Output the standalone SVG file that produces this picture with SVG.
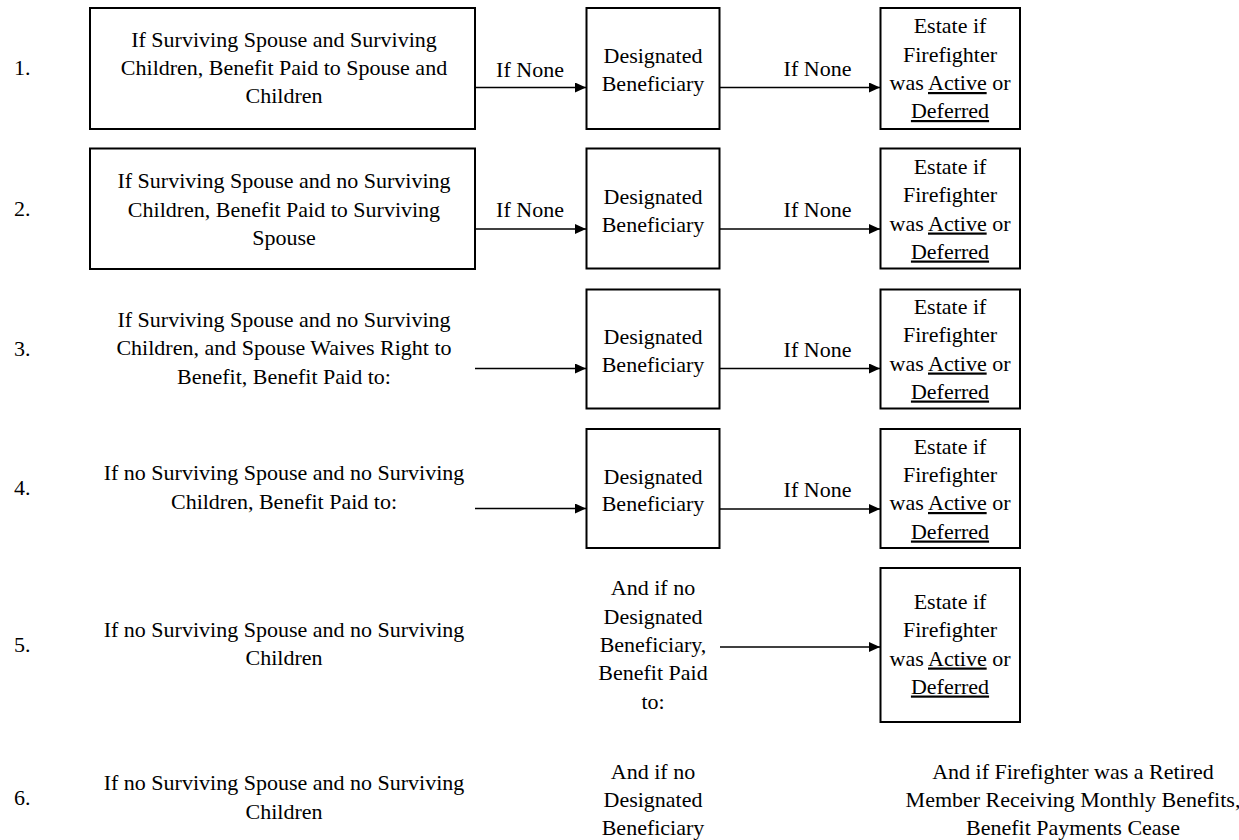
<svg xmlns="http://www.w3.org/2000/svg" width="1239" height="840" viewBox="0 0 1239 840">
<style>
text{font-size:22px;fill:#000}
#row1 text{font-family:"Liberation Serif"}
#row2 text{font-family:"Times New Roman"}
#row3 text{font-family:serif}
#row4 text{font-family:"Liberation Serif"}
#row5 text{font-family:serif}
#row6 text{font-family:"Times New Roman"}
#connectors text{font-family:Liberation Serif}
.c{text-anchor:middle}
.n{text-anchor:start}
.box{fill:#fff;stroke:#000;stroke-width:2}
.arr{stroke:#000;stroke-width:1.4;fill:none;marker-end:url(#ah)}
.u{text-decoration:underline}
</style>
<defs>
<marker id="ah" markerUnits="userSpaceOnUse" markerWidth="12" markerHeight="10" refX="11" refY="5" orient="auto" viewBox="0 0 12 10">
<path d="M0,0 L11,5 L0,10 z" fill="#000"/>
</marker>
</defs>
<rect width="1239" height="840" fill="#fff"/>
<g id="connectors">
<line class="arr" x1="475" y1="87.5" x2="586" y2="87.5"/>
<line class="arr" x1="719.5" y1="87.5" x2="880" y2="87.5"/>
<line class="arr" x1="475" y1="229" x2="586" y2="229"/>
<line class="arr" x1="719.5" y1="229" x2="880" y2="229"/>
<line class="arr" x1="475" y1="368.5" x2="586" y2="368.5"/>
<line class="arr" x1="719.5" y1="368.5" x2="880" y2="368.5"/>
<line class="arr" x1="475" y1="508.5" x2="586" y2="508.5"/>
<line class="arr" x1="719.5" y1="509" x2="880" y2="509"/>
<line class="arr" x1="720" y1="647" x2="880" y2="647"/>
<text class="c" x="530" y="77">If None</text>
<text class="c" x="817.5" y="76">If None</text>
<text class="c" x="530" y="217">If None</text>
<text class="c" x="817.5" y="216.5">If None</text>
<text class="c" x="817.5" y="357">If None</text>
<text class="c" x="817.5" y="497">If None</text>
</g>

<g id="row1">
<text class="n" x="14" y="75">1.</text>
<g id="r1-cond">
<rect class="box" x="90" y="8" width="385" height="121"/>
<text class="c" x="284" y="47">If Surviving Spouse and Surviving</text>
<text class="c" x="284" y="75">Children, Benefit Paid to Spouse and</text>
<text class="c" x="284" y="103">Children</text>
</g>
<g id="r1-desig">
<rect class="box" x="586.5" y="8" width="133" height="121"/>
<text class="c" x="653" y="63">Designated</text>
<text class="c" x="653" y="91">Beneficiary</text>
</g>
<g id="r1-estate">
<rect class="box" x="880.5" y="8" width="139.5" height="121"/>
<text class="c" x="950" y="33">Estate if</text>
<text class="c" x="950" y="61.5">Firefighter</text>
<text class="c" x="950" y="90">was <tspan class="u">Active</tspan> or</text>
<text class="c" x="950" y="118"><tspan class="u">Deferred</tspan></text>
</g>
</g>

<g id="row2">
<text class="n" x="14" y="215.5">2.</text>
<g id="r2-cond">
<rect class="box" x="90" y="148.5" width="385" height="120.5"/>
<text class="c" x="284" y="188">If Surviving Spouse and no Surviving</text>
<text class="c" x="284" y="216.5">Children, Benefit Paid to Surviving</text>
<text class="c" x="284" y="244.5">Spouse</text>
</g>
<g id="r2-desig">
<rect class="box" x="586.5" y="148.5" width="133" height="120"/>
<text class="c" x="653" y="203.5">Designated</text>
<text class="c" x="653" y="231.5">Beneficiary</text>
</g>
<g id="r2-estate">
<rect class="box" x="880.5" y="148.5" width="139.5" height="120"/>
<text class="c" x="950" y="173.5">Estate if</text>
<text class="c" x="950" y="202">Firefighter</text>
<text class="c" x="950" y="230.5">was <tspan class="u">Active</tspan> or</text>
<text class="c" x="950" y="258.5"><tspan class="u">Deferred</tspan></text>
</g>
</g>

<g id="row3">
<text class="n" x="14" y="356">3.</text>
<g id="r3-cond">
<text class="c" x="284" y="327">If Surviving Spouse and no Surviving</text>
<text class="c" x="284" y="355">Children, and Spouse Waives Right to</text>
<text class="c" x="284" y="383.5">Benefit, Benefit Paid to:</text>
</g>
<g id="r3-desig">
<rect class="box" x="586.5" y="289.5" width="133" height="119"/>
<text class="c" x="653" y="343.5">Designated</text>
<text class="c" x="653" y="371.5">Beneficiary</text>
</g>
<g id="r3-estate">
<rect class="box" x="880.5" y="289.5" width="139.5" height="119"/>
<text class="c" x="950" y="313.5">Estate if</text>
<text class="c" x="950" y="342">Firefighter</text>
<text class="c" x="950" y="370.5">was <tspan class="u">Active</tspan> or</text>
<text class="c" x="950" y="398.5"><tspan class="u">Deferred</tspan></text>
</g>
</g>

<g id="row4">
<text class="n" x="14" y="495">4.</text>
<g id="r4-cond">
<text class="c" x="284" y="480">If no Surviving Spouse and no Surviving</text>
<text class="c" x="284" y="508.5">Children, Benefit Paid to:</text>
</g>
<g id="r4-desig">
<rect class="box" x="586.5" y="429" width="133" height="119"/>
<text class="c" x="653" y="483.5">Designated</text>
<text class="c" x="653" y="511">Beneficiary</text>
</g>
<g id="r4-estate">
<rect class="box" x="880.5" y="429" width="139.5" height="119"/>
<text class="c" x="950" y="453.5">Estate if</text>
<text class="c" x="950" y="482">Firefighter</text>
<text class="c" x="950" y="510">was <tspan class="u">Active</tspan> or</text>
<text class="c" x="950" y="538.5"><tspan class="u">Deferred</tspan></text>
</g>
</g>

<g id="row5">
<text class="n" x="14" y="652">5.</text>
<g id="r5-cond">
<text class="c" x="284" y="637">If no Surviving Spouse and no Surviving</text>
<text class="c" x="284" y="665">Children</text>
</g>
<g id="r5-mid">
<text class="c" x="653" y="595">And if no</text>
<text class="c" x="653" y="623.5">Designated</text>
<text class="c" x="653" y="651.5">Beneficiary,</text>
<text class="c" x="653" y="680">Benefit Paid</text>
<text class="c" x="653" y="708.5">to:</text>
</g>
<g id="r5-estate">
<rect class="box" x="880.5" y="568" width="139.5" height="154"/>
<text class="c" x="950" y="609">Estate if</text>
<text class="c" x="950" y="637">Firefighter</text>
<text class="c" x="950" y="665.5">was <tspan class="u">Active</tspan> or</text>
<text class="c" x="950" y="693.5"><tspan class="u">Deferred</tspan></text>
</g>
</g>

<g id="row6">
<text class="n" x="14" y="805">6.</text>
<g id="r6-cond">
<text class="c" x="284" y="790">If no Surviving Spouse and no Surviving</text>
<text class="c" x="284" y="818.5">Children</text>
</g>
<g id="r6-mid">
<text class="c" x="653" y="778.5">And if no</text>
<text class="c" x="653" y="807">Designated</text>
<text class="c" x="653" y="835">Beneficiary</text>
</g>
<g id="r6-end">
<text class="c" x="1073" y="778.5">And if Firefighter was a Retired</text>
<text class="c" x="1073" y="807">Member Receiving Monthly Benefits,</text>
<text class="c" x="1073" y="835">Benefit Payments Cease</text>
</g>
</g>
</svg>
